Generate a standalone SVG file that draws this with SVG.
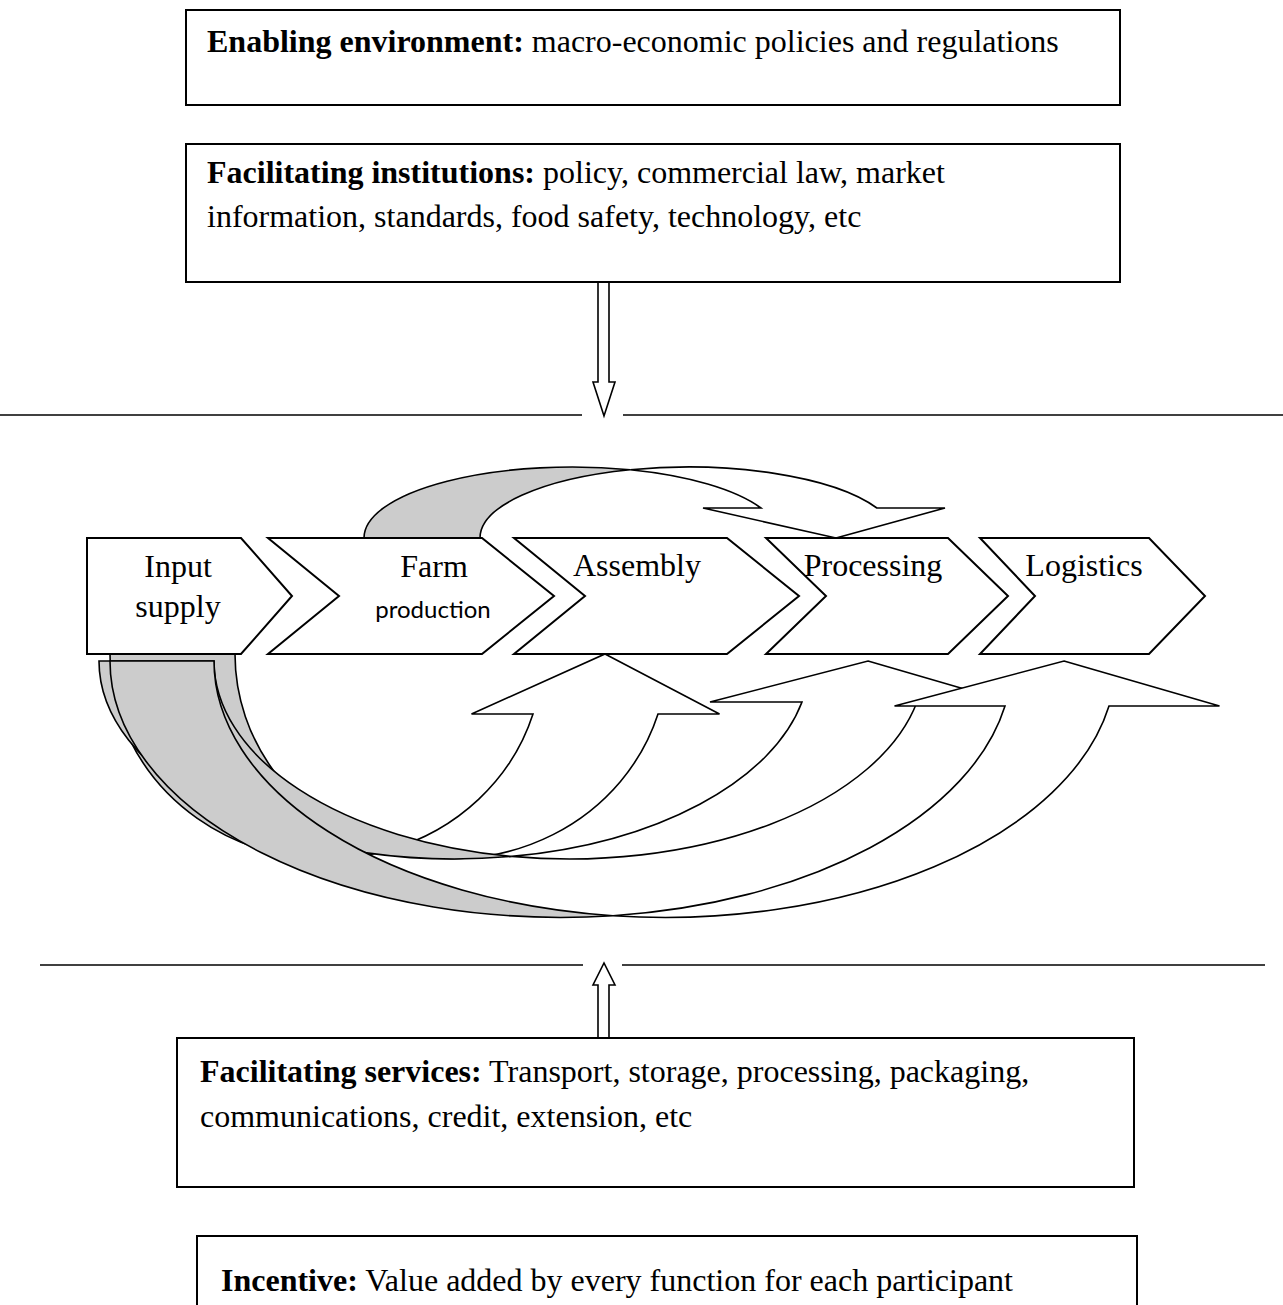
<svg xmlns="http://www.w3.org/2000/svg" width="1283" height="1305" viewBox="0 0 1283 1305">
  <style>
    .box { fill: #ffffff; stroke: #000000; stroke-width: 2; }
    .chev { fill: #ffffff; stroke: #000000; stroke-width: 2; stroke-linejoin: miter; }
    .band { fill: #ffffff; stroke: #000000; stroke-width: 1.6; stroke-linejoin: miter; }
    .back { fill: #cccccc; stroke: #000000; stroke-width: 1.6; stroke-linejoin: miter; }
    .rule { stroke: #000000; stroke-width: 1.6; fill: none; }
    .blk { fill: #ffffff; stroke: #000000; stroke-width: 1.6; }
    .t { font-family: "Liberation Serif", "Times New Roman", serif; font-size: 32px; fill: #000000; }
    .b { font-weight: bold; }
    .sans { font-family: Lato, "Liberation Sans", sans-serif; font-size: 24px; fill: #000000; }
  </style>

  <!-- connectors: horizontal rules, block arrows and curved flow arrows -->
  <g id="connectors">
    <line class="rule" x1="0" y1="415" x2="582" y2="415"/>
    <line class="rule" x1="623" y1="415" x2="1283" y2="415"/>
    <line class="rule" x1="40" y1="965" x2="583" y2="965"/>
    <line class="rule" x1="622" y1="965" x2="1265" y2="965"/>

    <!-- institutions -> value chain -->
    <polygon class="blk" points="598,282 609,282 609,382 615,382 604,416 593,382 598,382"/>
    <!-- services -> value chain -->
    <polygon class="blk" points="598,1038 609,1038 609,985 615,985 604,963 593,985 598,985"/>

    <!-- curved arrow over the chain: farm production -> processing -->
    <g id="arc-farm-processing">
      <path class="back" d="M364,538 L480,538 A208.2,71 0 0 1 630.2,469.8 A208.2,71 0 0 0 364,538 Z"/>
      <path class="band" d="M836,538 L945,508 L876.9,508 A208.2,71 0 0 0 630.2,469.8 A208.2,71 0 0 1 760.9,508 L703,508 Z"/>
    </g>

    <!-- curved arrows under the chain: input supply -> assembly / processing / logistics -->
    <g id="arc-input-assembly">
      <path class="back" d="M110,654 L235,654 A216.25,204.7 0 0 0 388.75,849.97 A216.25,204.7 0 0 1 110,654 Z"/>
      <path class="band" d="M605,654 L719.5,714 L658,714 A216.25,204.7 0 0 1 388.75,849.97 A216.25,204.7 0 0 0 533,714 L471.5,714 Z"/>
    </g>
    <g id="arc-input-processing">
      <path class="back" d="M99,661 L214,661 A355.35,198 0 0 0 511.85,856.39 A355.35,198 0 0 1 99,661 Z"/>
      <path class="band" d="M868,661 L1009,702 L917,702 A355.35,198 0 0 1 511.85,856.39 A355.35,198 0 0 0 802,702 L710,702 Z"/>
    </g>
    <g id="arc-input-logistics">
      <path class="back" d="M110,661 L214,661 A451,256.4 0 0 0 613,915.69 A451,256.4 0 0 1 110,661 Z"/>
      <path class="band" d="M1064,661 L1219.5,706 L1109,706 A451,256.4 0 0 1 613,915.69 A451,256.4 0 0 0 1005,706 L894.5,706 Z"/>
    </g>
  </g>

  <g id="node-enabling">
    <rect class="box" x="186" y="10" width="934" height="95"/>
    <text class="t" x="207" y="52"><tspan class="b">Enabling environment:</tspan> macro-economic policies and regulations</text>
  </g>

  <g id="node-institutions">
    <rect class="box" x="186" y="144" width="934" height="138"/>
    <text class="t" x="207" y="183"><tspan class="b">Facilitating institutions:</tspan> policy, commercial law, market</text>
    <text class="t" x="207" y="227">information, standards, food safety, technology, etc</text>
  </g>

  <g id="node-input">
    <polygon class="chev" points="87,538 241,538 292,596 241,654 87,654"/>
    <text class="t" x="178" y="577" text-anchor="middle">Input</text>
    <text class="t" x="178" y="617" text-anchor="middle">supply</text>
  </g>

  <g id="node-farm">
    <polygon class="chev" points="268,538 482,538 554,596 482,654 268,654 339,596"/>
    <text class="t" x="434" y="577" text-anchor="middle">Farm</text>
    <text class="sans" x="433" y="618" text-anchor="middle">production</text>
  </g>

  <g id="node-assembly">
    <polygon class="chev" points="514,538 727,538 799,596 727,654 514,654 585,596"/>
    <text class="t" x="637" y="576" text-anchor="middle">Assembly</text>
  </g>

  <g id="node-processing">
    <polygon class="chev" points="766,538 948,538 1008,596 948,654 766,654 826,596"/>
    <text class="t" x="873" y="576" text-anchor="middle">Processing</text>
  </g>

  <g id="node-logistics">
    <polygon class="chev" points="980,538 1149,538 1205,596 1149,654 980,654 1035,596"/>
    <text class="t" x="1084" y="576" text-anchor="middle">Logistics</text>
  </g>

  <g id="node-services">
    <rect class="box" x="177" y="1038" width="957" height="149"/>
    <text class="t" x="200" y="1082"><tspan class="b">Facilitating services:</tspan> Transport, storage, processing, packaging,</text>
    <text class="t" x="200" y="1127">communications, credit, extension, etc</text>
  </g>

  <g id="node-incentive">
    <rect class="box" x="197" y="1236" width="940" height="90"/>
    <text class="t" x="221" y="1291"><tspan class="b">Incentive:</tspan> Value added by every function for each participant</text>
  </g>
</svg>
